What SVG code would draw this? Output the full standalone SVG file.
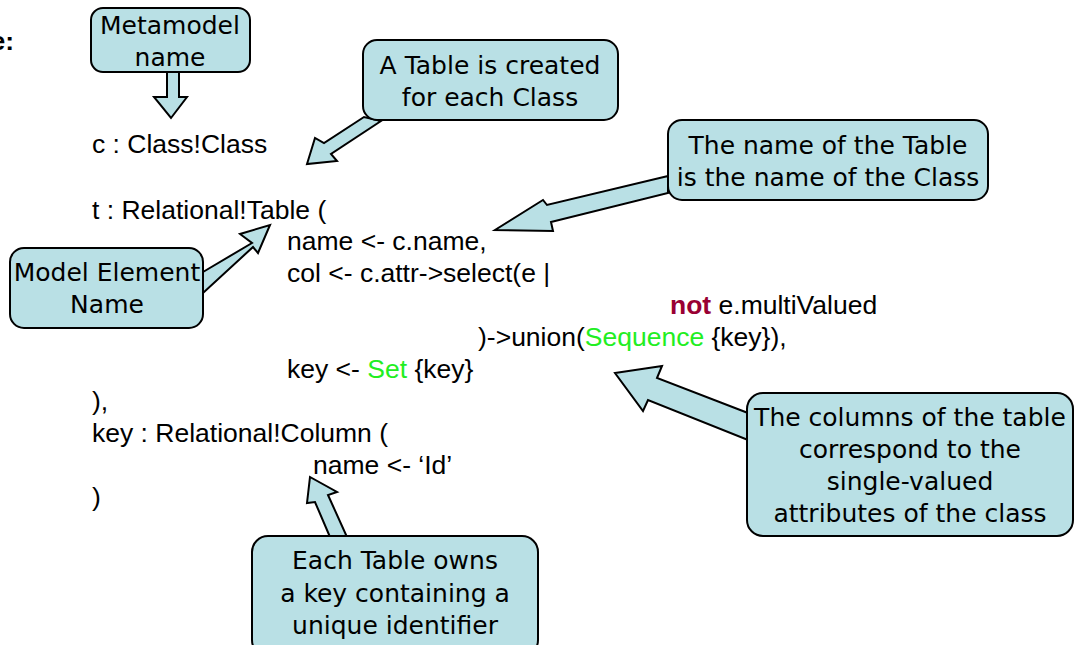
<svg xmlns="http://www.w3.org/2000/svg" width="1078" height="645" viewBox="0 0 1078 645">
<style>
.code{font-family:"Liberation Sans",Arial,sans-serif;font-size:26.5px;fill:#000}
.note{font-family:"DejaVu Sans","Noto Sans",sans-serif;font-size:25px;fill:#000;text-anchor:middle}
.box{fill:#b9e0e5;stroke:#000;stroke-width:2}
.arr{fill:#b9e0e5;stroke:#000;stroke-width:2;stroke-linejoin:miter}
.kw{fill:#990033;font-weight:bold}
.gr{fill:#22ee22}
</style>
<rect width="1078" height="645" fill="#fff"/>
<text class="code" x="14" y="50" text-anchor="end" font-weight="bold">e:</text>
<g id="code">
<text class="code" x="92" y="153">c : Class!Class</text>
<text class="code" x="92" y="219">t : Relational!Table (</text>
<text class="code" x="287" y="250">name &lt;- c.name,</text>
<text class="code" x="287" y="282">col &lt;- c.attr-&gt;select(e |</text>
<text class="code" x="670" y="314"><tspan class="kw">not</tspan> e.multiValued</text>
<text class="code" x="478" y="346">)-&gt;union(<tspan class="gr">Sequence</tspan> {key}),</text>
<text class="code" x="287" y="378">key &lt;- <tspan class="gr">Set</tspan> {key}</text>
<text class="code" x="92" y="410">),</text>
<text class="code" x="92" y="442">key : Relational!Column (</text>
<text class="code" x="313" y="474">name &lt;- ‘Id’</text>
<text class="code" x="92" y="506">)</text>
</g>
<g id="connectors">
<polygon class="arr" points="167,72 167,97 154,97 171,118 187,97 179,97 179,72"/>
<polygon class="arr" points="364,117 324,143 315,138 307,164 337,161 331,154 381,121"/>
<polygon class="arr" points="668,176 547,205 543,200 495,230 553,231 551,222 668,193"/>
<polygon class="arr" points="203,272 252,243 240,234 270,225 258,253 253,247 203,293"/>
<polygon class="arr" points="748,413 657,378 662,366 615,373 643,411 648,400 748,440"/>
<polygon class="arr" points="330,537 315,502 307,503 310,477 337,492 328,495 347,537"/>
</g>
<g id="metamodel-name">
<rect class="box" x="91" y="8" width="159" height="64" rx="12"/>
<text class="note" x="170" y="34">Metamodel</text>
<text class="note" x="170" y="66">name</text>
</g>
<g id="table-created">
<rect class="box" x="363" y="40" width="255" height="80" rx="14"/>
<text class="note" x="490" y="74">A Table is created</text>
<text class="note" x="490" y="106">for each Class</text>
</g>
<g id="name-of-table">
<rect class="box" x="668" y="120" width="320" height="80" rx="14"/>
<text class="note" x="828" y="154">The name of the Table</text>
<text class="note" x="828" y="186">is the name of the Class</text>
</g>
<g id="model-element-name">
<rect class="box" x="10" y="248" width="193" height="80" rx="14"/>
<text class="note" x="107" y="281">Model Element</text>
<text class="note" x="107" y="313">Name</text>
</g>
<g id="columns">
<rect class="box" x="747" y="393" width="326" height="143" rx="16"/>
<text class="note" x="910" y="426">The columns of the table</text>
<text class="note" x="910" y="458">correspond to the</text>
<text class="note" x="910" y="490">single-valued</text>
<text class="note" x="910" y="522">attributes of the class</text>
</g>
<g id="key">
<rect class="box" x="252" y="536" width="286" height="120" rx="16"/>
<text class="note" x="395" y="569">Each Table owns</text>
<text class="note" x="395" y="602">a key containing a</text>
<text class="note" x="395" y="634">unique identifier</text>
</g>
</svg>
